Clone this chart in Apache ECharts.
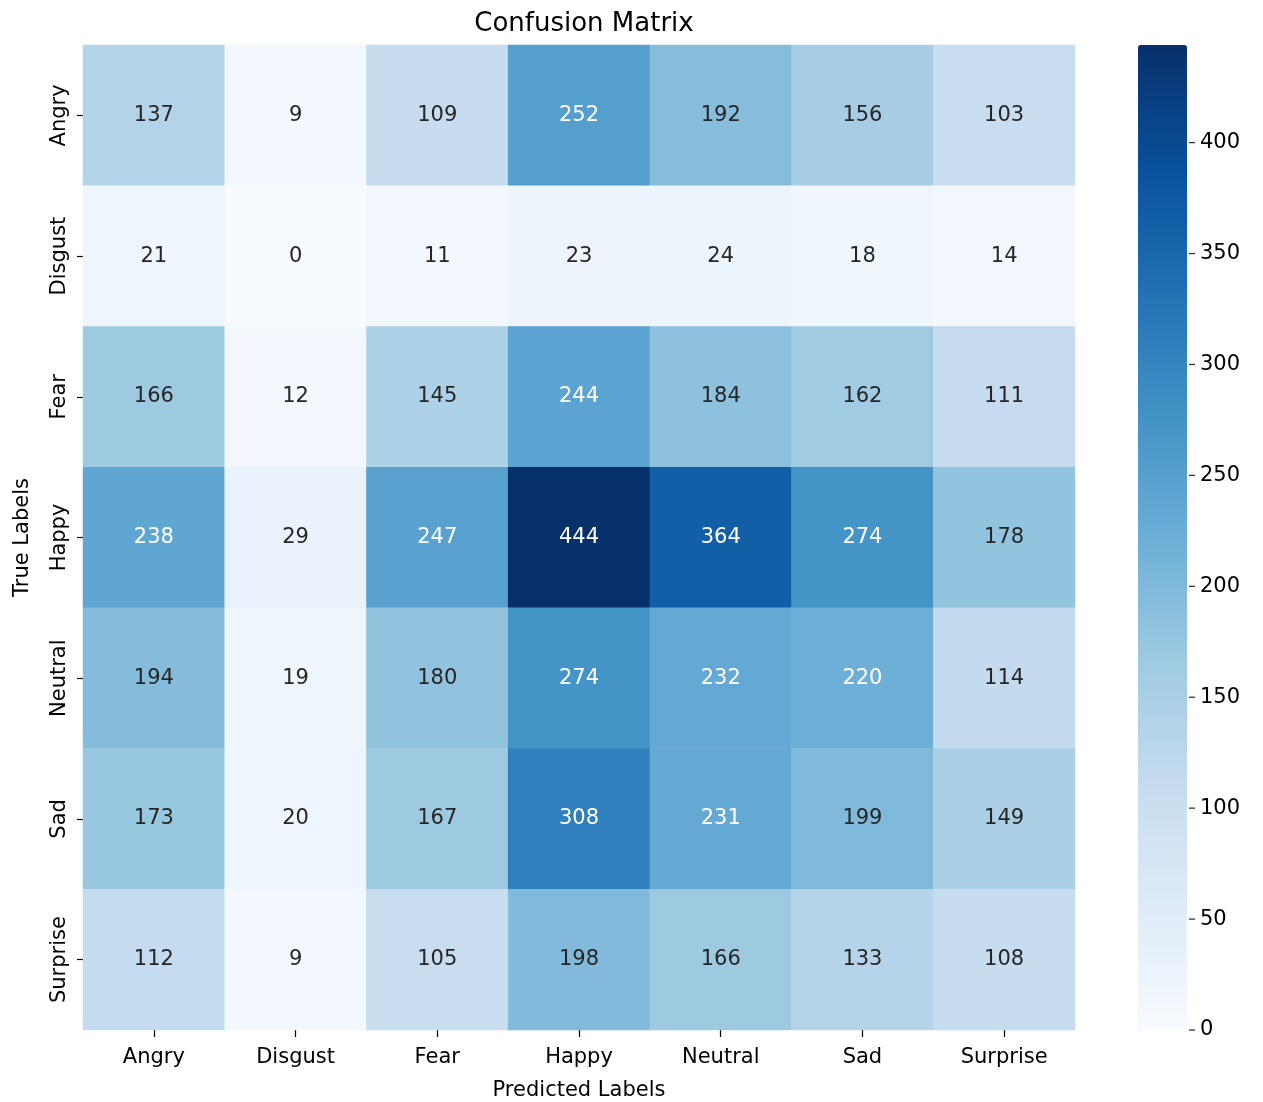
<!DOCTYPE html>
<html>
<head>
<meta charset="utf-8">
<script src="https://cdn.jsdelivr.net/npm/echarts@6/dist/echarts.min.js"></script>
<style>html,body{margin:0;padding:0;background:#fff;}#c{width:1263px;height:1102px;}</style>
</head>
<body>
<div id="c"></div>
<script>
const categories = ['Angry', 'Disgust', 'Fear', 'Happy', 'Neutral', 'Sad', 'Surprise'];
const rowAngry    = [137, 9, 109, 252, 192, 156, 103];
const rowDisgust  = [21, 0, 11, 23, 24, 18, 14];
const rowFear     = [166, 12, 145, 244, 184, 162, 111];
const rowHappy    = [238, 29, 247, 444, 364, 274, 178];
const rowNeutral  = [194, 19, 180, 274, 232, 220, 114];
const rowSad      = [173, 20, 167, 308, 231, 199, 149];
const rowSurprise = [112, 9, 105, 198, 166, 133, 108];
const colorbarTicks = [0, 50, 100, 150, 200, 250, 300, 350, 400];
const valueMin = 0;
const valueMax = 444;

const rows = [rowAngry, rowDisgust, rowFear, rowHappy, rowNeutral, rowSad, rowSurprise];
const blues = ['#f7fbff', '#deebf7', '#c6dbef', '#9ecae1', '#6baed6', '#4292c6', '#2171b5', '#08519c', '#08306b'];
const FONT = 'DejaVu Sans';
const FS = 21;

const data = [];
rows.forEach((row, r) => {
  row.forEach((v, c) => {
    data.push({
      value: [c, r, v],
      label: { color: v >= 210 ? '#ffffff' : '#262626' }
    });
  });
});

const chart = echarts.init(document.getElementById('c'), null, { renderer: 'canvas' });
chart.setOption({
  backgroundColor: '#ffffff',
  animation: false,
  title: {
    text: 'Confusion Matrix',
    left: 579, top: 6, textAlign: 'center',
    textStyle: { fontFamily: FONT, fontSize: 26, fontWeight: 'normal', color: '#000' }
  },
  grid: [
    { left: 83, right: 188, top: 45, bottom: 72, containLabel: false, outerBoundsMode: 'none' },
    { left: 1138, width: 49, top: 45, bottom: 72, containLabel: false, outerBoundsMode: 'none' }
  ],
  xAxis: [
    {
      gridIndex: 0, type: 'category', data: categories, position: 'bottom',
      axisLine: { show: false }, splitArea: { show: false },
      axisTick: { show: true, alignWithLabel: true, length: 7, lineStyle: { color: '#000', width: 1.2 } },
      axisLabel: { fontFamily: FONT, fontSize: FS, color: '#000', margin: 17 },
      name: 'Predicted Labels', nameLocation: 'middle', nameGap: 50,
      nameTextStyle: { fontFamily: FONT, fontSize: FS, color: '#000' }
    },
    {
      gridIndex: 1, type: 'value', min: 0, max: 1, show: false
    }
  ],
  yAxis: [
    {
      gridIndex: 0, type: 'category', data: categories, inverse: true,
      axisLine: { show: false }, splitArea: { show: false },
      axisTick: { show: true, alignWithLabel: true, length: 6, lineStyle: { color: '#000', width: 1.2 } },
      axisLabel: { fontFamily: FONT, fontSize: FS, color: '#000', rotate: 90, margin: 13, align: 'center', verticalAlign: 'bottom' },
      name: 'True Labels', nameLocation: 'middle', nameGap: 50, nameRotate: 90,
      nameTextStyle: { fontFamily: FONT, fontSize: FS, color: '#000' }
    },
    {
      gridIndex: 1, type: 'value', min: valueMin, max: valueMax, position: 'right',
      axisLine: { show: false, onZero: false },
      splitLine: { show: false },
      axisTick: { show: false },
      axisLabel: { fontFamily: FONT, fontSize: FS, color: '#000', margin: 13, customValues: colorbarTicks }
    }
  ],
  visualMap: {
    type: 'continuous', seriesIndex: 0, min: valueMin, max: valueMax,
    calculable: false, realtime: false, orient: 'vertical',
    left: 1138, top: 45, itemWidth: 49, itemHeight: 985, padding: 0,
    text: null, showLabel: false, hoverLink: false, z: 1,
    inRange: { color: blues }
  },
  series: [
    {
      type: 'heatmap', xAxisIndex: 0, yAxisIndex: 0, data: data,
      label: { show: true, fontFamily: FONT, fontSize: FS, formatter: p => String(p.value[2]) },
      itemStyle: { borderWidth: 0 },
      emphasis: { disabled: true }
    },
    {
      type: 'scatter', xAxisIndex: 1, yAxisIndex: 1, silent: true, z: 10,
      data: colorbarTicks.map(v => [1, v]),
      symbol: 'rect', symbolSize: [6, 1.3], symbolOffset: [5, 0],
      itemStyle: { color: '#000' }
    }
  ]
});
</script>
</body>
</html>
